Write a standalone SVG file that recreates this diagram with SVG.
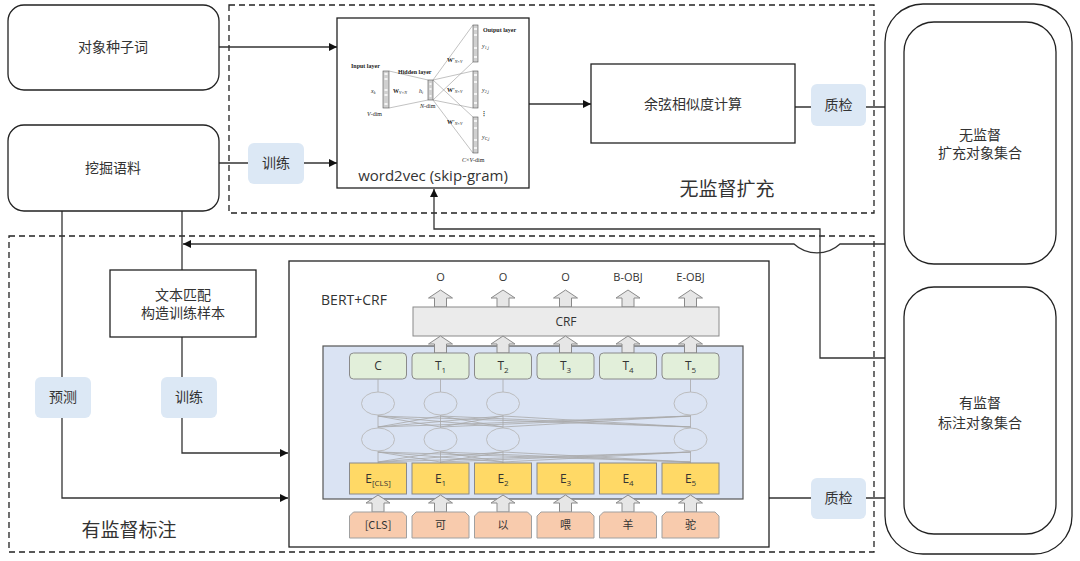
<svg xmlns="http://www.w3.org/2000/svg" width="1080" height="561" viewBox="0 0 1080 561">
<defs>
<style>
.t{font-family:"Noto Sans CJK SC","Noto Sans",sans-serif;fill:#333;text-anchor:middle}
.n{font-size:14px}
.big{font-size:19px}
.s{font-family:"Open Sans","Noto Sans",sans-serif;fill:#333;text-anchor:middle}
.nn{font-family:"Liberation Serif",serif;fill:#222;font-size:6px}
.box{fill:#fff;stroke:#222;stroke-width:1.3}
.dash{fill:none;stroke:#222;stroke-width:1.3;stroke-dasharray:6 4}
.lab{fill:#dce8f5;stroke:none}
.con{fill:none;stroke:#333;stroke-width:1.3}
.tb{fill:#e2efda;stroke:#8a8a8a;stroke-width:1}
.eb{fill:#ffd966;stroke:#8a8a8a;stroke-width:1}
.kb{fill:#f8cbad;stroke:#a0a0a0;stroke-width:1}
.ba{fill:#e6e6e6;stroke:#8a8a8a;stroke-width:1}
.gl{stroke:#a8a8a8;stroke-width:0.8;fill:none}
.el{fill:none;stroke:#b8b8b8;stroke-width:0.9}
.vec{fill:#d0d0d0;stroke:#555;stroke-width:0.6}
.nl{stroke:#999;stroke-width:0.6;fill:none}
</style>
<marker id="arr" viewBox="0 0 10 10" refX="10" refY="5" markerWidth="9" markerHeight="8" orient="auto" markerUnits="userSpaceOnUse"><path d="M0,0 L10,5 L0,10 z" fill="#111"/></marker>
<path id="up" d="M0,0 L12,8 L6,8 L6,17 L-6,17 L-6,8 L-12,8 Z"/>
</defs>

<!-- dashed regions -->
<g id="region-unsup">
<rect class="dash" x="229" y="5" width="645" height="208"/>
<text class="t big" x="727" y="196">无监督扩充</text>
</g>
<g id="region-sup">
<rect class="dash" x="9" y="236" width="865" height="316"/>
<text class="t big" x="129" y="537">有监督标注</text>
</g>

<!-- connectors -->
<g id="connectors">
<path class="con" d="M219,47 H337" marker-end="url(#arr)"/>
<path class="con" d="M219,163 H337" marker-end="url(#arr)"/>
<path class="con" d="M529,104 H591" marker-end="url(#arr)"/>
<path class="con" d="M795,107 H903" marker-end="url(#arr)"/>
<path class="con" d="M904,244 H840 A34,34 0 0 1 794,244 H183" marker-end="url(#arr)"/>
<path class="con" d="M904,358 H820 V229 H434 V189" marker-end="url(#arr)"/>
<path class="con" d="M62,211 V498 H288" marker-end="url(#arr)"/>
<path class="con" d="M182,211 V270"/>
<path class="con" d="M182,337 V453 H288" marker-end="url(#arr)"/>
<path class="con" d="M769,498 H903" marker-end="url(#arr)"/>
</g>

<!-- edge labels -->
<g id="label-train1"><rect class="lab" x="248" y="143" width="56" height="41" rx="6"/><text class="t n" x="276" y="168">训练</text></g>
<g id="label-qc1"><rect class="lab" x="811" y="84" width="55" height="42" rx="6"/><text class="t n" x="838.5" y="110">质检</text></g>
<g id="label-predict"><rect class="lab" x="35" y="377" width="56" height="41" rx="6"/><text class="t n" x="63" y="402">预测</text></g>
<g id="label-train2"><rect class="lab" x="161" y="377" width="56" height="41" rx="6"/><text class="t n" x="189" y="402">训练</text></g>
<g id="label-qc2"><rect class="lab" x="811" y="478" width="55" height="41" rx="6"/><text class="t n" x="838.5" y="503">质检</text></g>

<!-- left nodes -->
<g id="node-seed"><rect class="box" x="8" y="5" width="211" height="85" rx="16"/><text class="t n" x="113" y="52">对象种子词</text></g>
<g id="node-corpus"><rect class="box" x="8" y="125" width="211" height="86" rx="16"/><text class="t n" x="113" y="173">挖掘语料</text></g>
<g id="node-match"><rect class="box" x="110" y="270" width="146" height="67" rx="0"/><text class="t n" x="183" y="300">文本匹配</text><text class="t n" x="183" y="318">构造训练样本</text></g>

<!-- word2vec -->
<g id="node-word2vec">
<rect class="box" x="337" y="18" width="192" height="170"/>
<g>
<path class="nl" d="M389,71 L428,80 M389,108 L428,100 M433,80 L473,25 M433,80 L473,71 M433,80 L473,117 M433,100 L473,62 M433,100 L473,108 M433,100 L473,153"/>
<rect class="vec" x="383" y="71" width="6" height="37"/>
<rect class="vec" x="428" y="80" width="5" height="20"/>
<rect class="vec" x="473" y="25" width="5" height="37"/>
<rect class="vec" x="473" y="71" width="5" height="37"/>
<rect class="vec" x="473" y="117" width="5" height="36"/>
<path d="M384.5,74 h3 M384.5,79 h3 M384.5,90 h3 M384.5,95 h3 M384.5,104 h3 M429.5,84 h2 M429.5,89 h2 M429.5,96 h2 M474,29 h3 M474,35 h3 M474,48 h3 M474,57 h3 M474,75 h3 M474,82 h3 M474,94 h3 M474,103 h3 M474,121 h3 M474,128 h3 M474,140 h3 M474,148 h3" stroke="#fff" stroke-width="1.6"/>
<text class="nn" x="351" y="68" font-weight="bold">Input layer</text>
<text class="nn" x="398" y="74" font-weight="bold">Hidden layer</text>
<text class="nn" x="483" y="32" font-weight="bold">Output layer</text>
<text class="nn" x="371" y="93" font-style="italic">x<tspan font-size="4" dy="1">k</tspan></text>
<text class="nn" x="393" y="93" font-weight="bold">W<tspan font-size="4" dy="1" font-weight="normal" font-style="italic">V×N</tspan></text>
<text class="nn" x="419" y="93" font-style="italic">h<tspan font-size="4" dy="1">i</tspan></text>
<text class="nn" x="367" y="116" font-style="italic">V<tspan font-style="normal">-dim</tspan></text>
<text class="nn" x="420" y="108" font-style="italic">N<tspan font-style="normal">-dim</tspan></text>
<text class="nn" x="447" y="62" font-weight="bold">W'<tspan font-size="4" dy="1" font-weight="normal" font-style="italic">N×V</tspan></text>
<text class="nn" x="447" y="92" font-weight="bold">W'<tspan font-size="4" dy="1" font-weight="normal" font-style="italic">N×V</tspan></text>
<text class="nn" x="447" y="124" font-weight="bold">W'<tspan font-size="4" dy="1" font-weight="normal" font-style="italic">N×V</tspan></text>
<text class="nn" x="482" y="48" font-style="italic">y<tspan font-size="4" dy="1">1,j</tspan></text>
<text class="nn" x="482" y="92" font-style="italic">y<tspan font-size="4" dy="1">2,j</tspan></text>
<text class="nn" x="482" y="139" font-style="italic">y<tspan font-size="4" dy="1">C,j</tspan></text>
<text class="nn" x="481" y="115" font-weight="bold">⋮</text>
<text class="nn" x="462" y="162" font-style="italic">C<tspan font-style="normal">×</tspan>V<tspan font-style="normal">-dim</tspan></text>
</g>
<text class="s" x="433" y="181" font-size="15">word2vec (skip-gram)</text>
</g>

<g id="node-cosine"><rect class="box" x="591" y="64" width="204" height="79"/><text class="t n" x="693" y="109">余弦相似度计算</text></g>

<!-- right sets -->
<g id="node-sets-outer"><rect class="box" x="885" y="4" width="187" height="550" rx="38"/></g>
<g id="node-unsup-set"><rect class="box" x="904" y="22" width="152" height="242" rx="30"/><text class="t n" x="980" y="140">无监督</text><text class="t n" x="980" y="158">扩充对象集合</text></g>
<g id="node-sup-set"><rect class="box" x="904" y="287" width="152" height="247" rx="30"/><text class="t n" x="980" y="408">有监督</text><text class="t n" x="980" y="428">标注对象集合</text></g>

<!-- BERT+CRF -->
<g id="node-bertcrf">
<rect class="box" x="289" y="261" width="480" height="286"/>
<text class="s" x="354" y="305" font-size="14">BERT+CRF</text>
<g class="s" font-size="11">
<text x="440.5" y="281">O</text><text x="503" y="281">O</text><text x="565.5" y="281">O</text><text x="628" y="281">B-OBJ</text><text x="690.5" y="281">E-OBJ</text>
</g>
<g class="ba">
<use href="#up" x="440.5" y="290"/><use href="#up" x="503" y="290"/><use href="#up" x="565.5" y="290"/><use href="#up" x="628" y="290"/><use href="#up" x="690.5" y="290"/>
</g>
<rect x="413" y="307" width="306" height="29" fill="#ebebeb" stroke="#8a8a8a"/>
<text class="s" x="566" y="326" font-size="12">CRF</text>
<rect x="323" y="346" width="420" height="153" fill="#dae3f3" stroke="#555" stroke-width="1.2"/>
<g class="ba">
<use href="#up" x="440.5" y="336"/><use href="#up" x="503" y="336"/><use href="#up" x="565.5" y="336"/><use href="#up" x="628" y="336"/><use href="#up" x="690.5" y="336"/>
</g>
<g class="tb">
<rect x="349.5" y="353" width="57" height="26" rx="4"/><rect x="412" y="353" width="57" height="26" rx="4"/><rect x="474.5" y="353" width="57" height="26" rx="4"/><rect x="537" y="353" width="57" height="26" rx="4"/><rect x="599.5" y="353" width="57" height="26" rx="4"/><rect x="662" y="353" width="57" height="26" rx="4"/>
</g>
<g class="s" font-size="12">
<text x="378" y="370">C</text>
<text x="440.5" y="370">T<tspan font-size="8" dy="3">1</tspan></text>
<text x="503" y="370">T<tspan font-size="8" dy="3">2</tspan></text>
<text x="565.5" y="370">T<tspan font-size="8" dy="3">3</tspan></text>
<text x="628" y="370">T<tspan font-size="8" dy="3">4</tspan></text>
<text x="690.5" y="370">T<tspan font-size="8" dy="3">5</tspan></text>
</g>
<path class="gl" d="M378,379 V392 M440.5,379 V392 M503,379 V392 M690.5,379 V392 M378,415 V428 M440.5,415 V428 M503,415 V428 M690.5,415 V428 M378,451 V463 M440.5,451 V463 M503,451 V463 M690.5,451 V463"/>
<path class="gl" d="M378,416 L440.5,427 M378,416 L503,427 M378,416 L690.5,427 M440.5,416 L378,427 M440.5,416 L503,427 M440.5,416 L690.5,427 M503,416 L378,427 M503,416 L440.5,427 M503,416 L690.5,427 M690.5,416 L378,427 M690.5,416 L440.5,427 M690.5,416 L503,427"/>
<path class="gl" d="M378,452 L440.5,462 M378,452 L503,462 M378,452 L690.5,462 M440.5,452 L378,462 M440.5,452 L503,462 M440.5,452 L690.5,462 M503,452 L378,462 M503,452 L440.5,462 M503,452 L690.5,462 M690.5,452 L378,462 M690.5,452 L440.5,462 M690.5,452 L503,462"/>
<g class="el">
<ellipse cx="378" cy="403.5" rx="16.5" ry="11.5"/><ellipse cx="440.5" cy="403.5" rx="16.5" ry="11.5"/><ellipse cx="503" cy="403.5" rx="16.5" ry="11.5"/><ellipse cx="690.5" cy="403.5" rx="16.5" ry="11.5"/>
<ellipse cx="378" cy="439.5" rx="16.5" ry="11.5"/><ellipse cx="440.5" cy="439.5" rx="16.5" ry="11.5"/><ellipse cx="503" cy="439.5" rx="16.5" ry="11.5"/><ellipse cx="690.5" cy="439.5" rx="16.5" ry="11.5"/>
</g>
<g class="eb">
<rect x="349.5" y="463" width="57" height="31"/><rect x="412" y="463" width="57" height="31"/><rect x="474.5" y="463" width="57" height="31"/><rect x="537" y="463" width="57" height="31"/><rect x="599.5" y="463" width="57" height="31"/><rect x="662" y="463" width="57" height="31"/>
</g>
<g class="s" font-size="12">
<text x="378" y="483">E<tspan font-size="8" dy="3">[CLS]</tspan></text>
<text x="440.5" y="483">E<tspan font-size="8" dy="3">1</tspan></text>
<text x="503" y="483">E<tspan font-size="8" dy="3">2</tspan></text>
<text x="565.5" y="483">E<tspan font-size="8" dy="3">3</tspan></text>
<text x="628" y="483">E<tspan font-size="8" dy="3">4</tspan></text>
<text x="690.5" y="483">E<tspan font-size="8" dy="3">5</tspan></text>
</g>
<g class="ba">
<use href="#up" x="378" y="495"/><use href="#up" x="440.5" y="495"/><use href="#up" x="503" y="495"/><use href="#up" x="565.5" y="495"/><use href="#up" x="628" y="495"/><use href="#up" x="690.5" y="495"/>
</g>
<g class="kb">
<path d="M353.5,512 H402.5 L406.5,516 V538 H349.5 V516 Z"/>
<path d="M416,512 H465 L469,516 V538 H412 V516 Z"/>
<path d="M478.5,512 H527.5 L531.5,516 V538 H474.5 V516 Z"/>
<path d="M541,512 H590 L594,516 V538 H537 V516 Z"/>
<path d="M603.5,512 H652.5 L656.5,516 V538 H599.5 V516 Z"/>
<path d="M666,512 H715 L719,516 V538 H662 V516 Z"/>
</g>
<g class="t" font-size="11">
<text x="378" y="529">[CLS]</text><text x="440.5" y="529">可</text><text x="503" y="529">以</text><text x="565.5" y="529">喂</text><text x="628" y="529">羊</text><text x="690.5" y="529">驼</text>
</g>
</g>
</svg>
